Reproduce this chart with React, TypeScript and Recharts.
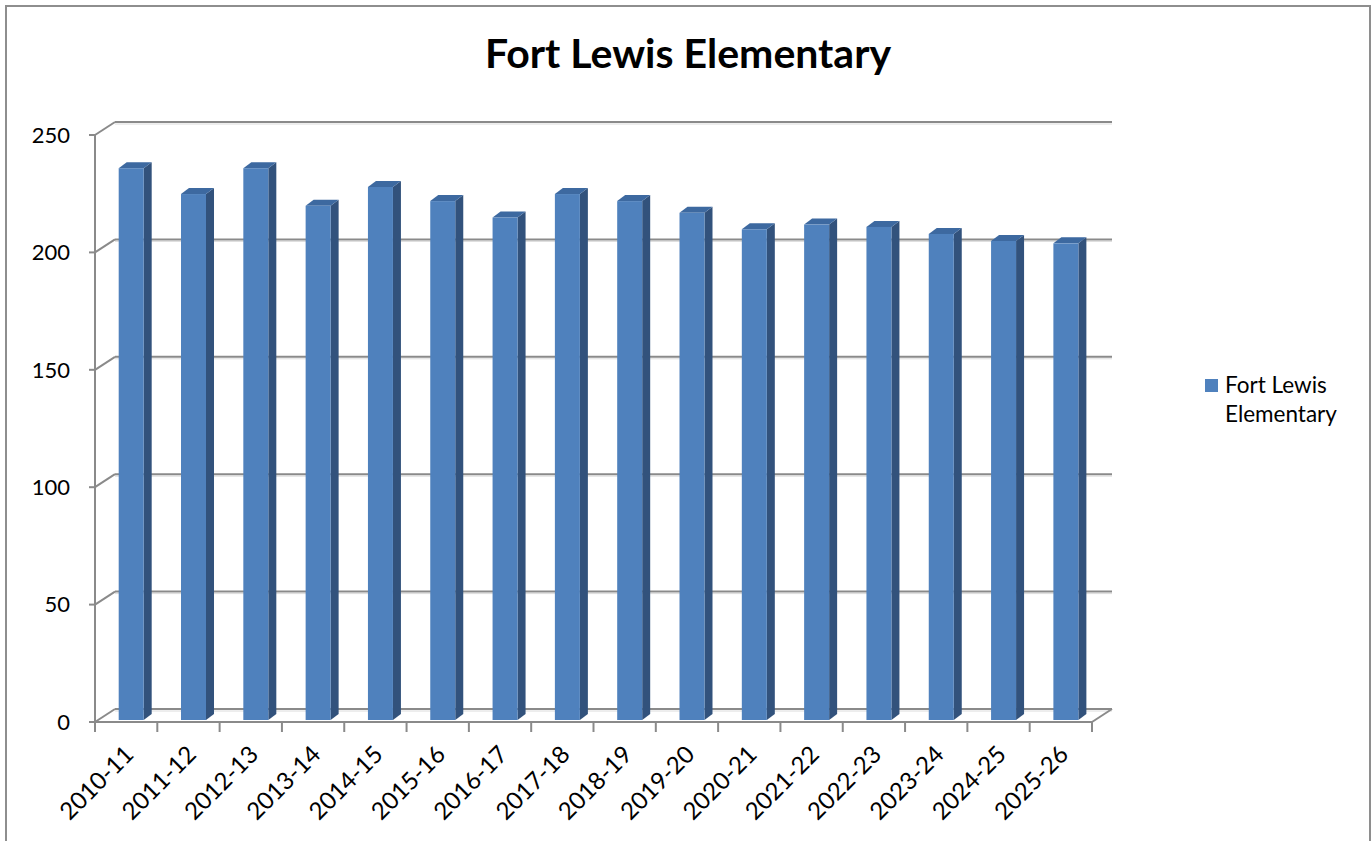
import React from 'react';
import { BarChart, Bar, XAxis, YAxis, CartesianGrid, Legend } from 'recharts';

const categories = ['2010-11','2011-12','2012-13','2013-14','2014-15','2015-16','2016-17','2017-18','2018-19','2019-20','2020-21','2021-22','2022-23','2023-24','2024-25','2025-26'];
const enrollment = [235, 224, 235, 219, 227, 221, 214, 224, 221, 216, 209, 211, 210, 207, 204, 203];
const yTicks = [0, 50, 100, 150, 200, 250];
const seriesName = 'Fort Lewis Elementary';
const titleText = 'Fort Lewis Elementary';

const data = categories.map((c, i) => ({ name: c, value: enrollment[i] }));

const FONT = 'Lato, "Open Sans", sans-serif';
const GRID = '#8a8a8a';
const DEPTH_X = 20;
const DEPTH_Y = 13;
const BAR_DX = 8;
const BAR_DY = 6;

const Bar3D = (props: any) => {
  const { x, y, width, height } = props;
  if (height == null || width == null) return null;
  const fx = x + 5;
  const fy = y - 2;
  const w = width;
  const h = height;
  return (
    <g>
      <polygon points={`${fx + w},${fy} ${fx + w + BAR_DX},${fy - BAR_DY} ${fx + w + BAR_DX},${fy + h - BAR_DY} ${fx + w},${fy + h}`} fill="#32527c" />
      <polygon points={`${fx},${fy} ${fx + BAR_DX},${fy - BAR_DY} ${fx + w + BAR_DX},${fy - BAR_DY} ${fx + w},${fy}`} fill="#3d69a0" />
      <rect x={fx} y={fy} width={w} height={h} fill="#4f81bd" />
    </g>
  );
};

const GridLine = (props: any) => {
  const { x1, y1, x2, index } = props;
  const bx1 = x1 + DEPTH_X;
  const bx2 = x2 + DEPTH_X;
  const by = y1 - DEPTH_Y;
  const isBottom = index === 0;
  return (
    <g key={props.key}>
      <line x1={bx1} y1={by + 2} x2={bx2} y2={by + 2} stroke="#dcdcdc" strokeWidth={1} />
      <line x1={bx1} y1={by} x2={bx2} y2={by} stroke={GRID} strokeWidth={2} />
      <line x1={x1} y1={y1} x2={bx1} y2={by} stroke={GRID} strokeWidth={2} />
      {isBottom ? <line x1={x2} y1={y1} x2={bx2} y2={by} stroke={GRID} strokeWidth={2} /> : null}
    </g>
  );
};

const XTick = (props: any) => {
  const { x, y, payload, index, visibleTicksCount } = props;
  const half = payload && payload.offset ? payload.offset : 31;
  const top = y - 8;
  const tx = x + 9;
  const ty = y + 26;
  return (
    <g>
      <line x1={x - half} y1={top} x2={x - half} y2={top + 10} stroke={GRID} strokeWidth={2} />
      {index === visibleTicksCount - 1 ? (
        <line x1={x + half} y1={top} x2={x + half} y2={top + 10} stroke={GRID} strokeWidth={2} />
      ) : null}
      <text x={tx} y={ty} textAnchor="end" transform={`rotate(-45, ${tx}, ${ty})`} fontSize={24} fontFamily={FONT} fill="#000">
        {payload.value}
      </text>
    </g>
  );
};

const LegendContent = () => (
  <div style={{ display: 'flex', alignItems: 'flex-start', fontFamily: FONT, fontSize: 22.5, lineHeight: '29px', color: '#000' }}>
    <div style={{ width: 13, height: 13, background: '#4f81bd', marginTop: 9, marginRight: 7 }} />
    <div>
      <div>Fort Lewis</div>
      <div>Elementary</div>
    </div>
  </div>
);

export default function App() {
  return (
    <div style={{ position: 'absolute', left: 0, top: 0, width: 1372, height: 841, overflow: 'hidden', background: '#fff' }}>
      <div style={{ position: 'absolute', left: 5, top: 5, width: 1362, height: 900, border: '2px solid #8e8e8e' }} />
      <div style={{ position: 'absolute', left: 0, top: 28, width: 1376, textAlign: 'center', fontFamily: FONT, fontWeight: 700, fontSize: 41, color: '#000' }}>
        {titleText}
      </div>
      <div style={{ position: 'absolute', left: 0, top: 0 }}>
        <BarChart width={1372} height={841} data={data} margin={{ top: 135, right: 120, bottom: 19, left: 35 }} barCategoryGap="30%">
          <CartesianGrid vertical={false} horizontal={(p: any) => <GridLine {...p} />} />
          <YAxis
            width={60}
            domain={[0, 250]}
            ticks={yTicks}
            interval={0}
            axisLine={{ stroke: GRID, strokeWidth: 2 }}
            tickLine={{ stroke: GRID, strokeWidth: 2 }}
            tickSize={6}
            tickMargin={19}
            tick={{ fontSize: 22, fontFamily: FONT, fill: '#000' }}
          />
          <XAxis
            dataKey="name"
            height={100}
            interval={0}
            axisLine={{ stroke: GRID, strokeWidth: 2 }}
            tickLine={false}
            tick={<XTick />}
          />
          <Legend
            layout="vertical"
            align="right"
            verticalAlign="top"
            content={() => <LegendContent />}
            wrapperStyle={{ position: 'absolute', left: 1205, top: 370, width: 160 }}
          />
          <Bar dataKey="value" name={seriesName} shape={<Bar3D />} isAnimationActive={false} />
        </BarChart>
      </div>
    </div>
  );
}
